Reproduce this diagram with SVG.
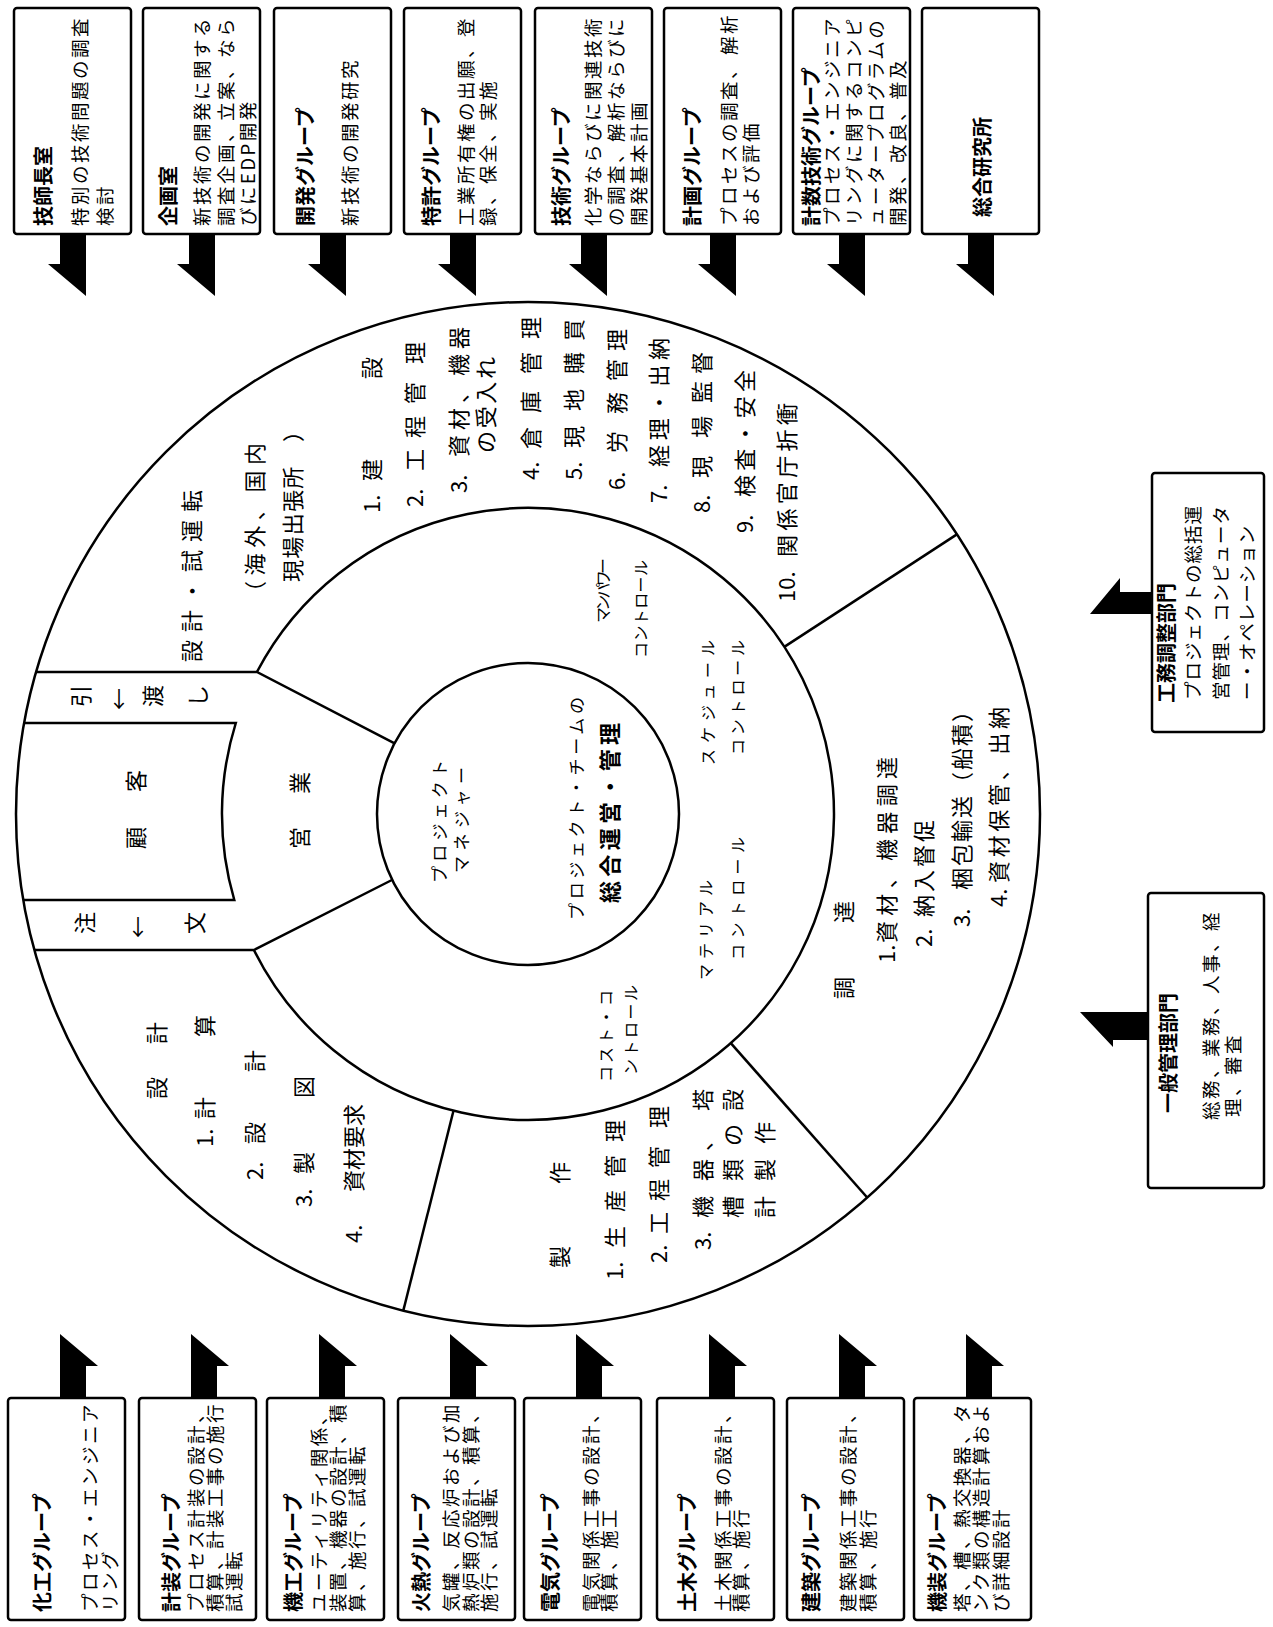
<svg xmlns="http://www.w3.org/2000/svg" width="1273" height="1627" viewBox="0 0 1273 1627">
<defs>
<style>
text{font-family:"Noto Sans CJK JP","Noto Sans",sans-serif;dominant-baseline:central;fill:#000}
.box{fill:#fff;stroke:#000;stroke-width:2.5}
.ln{fill:none;stroke:#000;stroke-width:2.5}
.arr{fill:#000;stroke:none}
.tt{font-size:20px;font-weight:bold}
.bd{font-size:18.5px;letter-spacing:2.5px}
.c22{font-size:22px}
.c16{font-size:16px}
.c17{font-size:17px}
.cm{text-anchor:middle}
</style>
</defs>
<rect width="1273" height="1627" fill="#fff"/>

<!-- wheel -->
<g id="wheel">
<circle class="ln" cx="528" cy="814" r="512"/>
<path class="ln" d="M256.9 672 A306 306 0 1 1 253.9 950"/>
<circle class="ln" cx="528" cy="814" r="151"/>
<path class="ln" d="M36.1 672 H256.9 L394.6 743.4"/>
<path class="ln" d="M34.4 950 H253.9 L391.9 880"/>
<path class="ln" d="M24.2 723 H235.8 A306 306 0 0 0 234.3 900 H23.3"/>
<path class="ln" d="M784.3 646.9 L956.9 534.4"/>
<path class="ln" d="M730.8 1043.2 L867.2 1197.5"/>
<path class="ln" d="M453.5 1110.8 L403.3 1310.6"/>
</g>

<g id="kokyaku">
<text class="c22 cm" transform="rotate(-90)" x="-838" y="134">顧</text>
<text class="c22 cm" transform="rotate(-90)" x="-781" y="134">客</text>
</g>
<g id="hikiwatashi">
<text class="c22 cm" transform="rotate(-90)" x="-696" y="79">引</text>
<text class="c22 cm" x="119" y="697">↓</text>
<text class="c22 cm" transform="rotate(-90)" x="-696" y="151">渡</text>
<text class="c22 cm" transform="rotate(-90)" x="-696" y="196">し</text>
</g>
<g id="chumon">
<text class="c22 cm" transform="rotate(-90)" x="-923" y="83">注</text>
<text class="c22 cm" x="138" y="925">↓</text>
<text class="c22 cm" transform="rotate(-90)" x="-923" y="193">文</text>
</g>
<g id="eigyo">
<text class="c22 cm" transform="rotate(-90)" x="-838" y="298">営</text>
<text class="c22 cm" transform="rotate(-90)" x="-783" y="298">業</text>
</g>

<g id="sector-kensetsu">
<text class="c22" transform="rotate(-90)" x="-662" y="190" textLength="172">設計・試運転</text>
<text class="c22" transform="rotate(-90)" x="-603" y="253" textLength="160">（海外、国内</text>
<text class="c22" transform="rotate(-90)" x="-582" y="291" textLength="162">現場出張所　）</text>
<text class="c22" transform="rotate(-90)" y="370"><tspan x="-513">1.</tspan><tspan x="-481">建</tspan><tspan x="-379">設</tspan></text>
<text class="c22" transform="rotate(-90)" y="413"><tspan x="-507">2.</tspan><tspan x="-471">工</tspan><tspan x="-438">程</tspan><tspan x="-404">管</tspan><tspan x="-364">理</tspan></text>
<text class="c22" transform="rotate(-90)" x="-493" y="457">3.</text>
<text class="c22" transform="rotate(-90)" x="-457" y="457" textLength="130">資材、機器</text>
<text class="c22" transform="rotate(-90)" x="-453" y="484" textLength="96">の受入れ</text>
<text class="c22" transform="rotate(-90)" y="529"><tspan x="-480">4.</tspan><tspan x="-449">倉</tspan><tspan x="-413">庫</tspan><tspan x="-374">管</tspan><tspan x="-339">理</tspan></text>
<text class="c22" transform="rotate(-90)" y="572"><tspan x="-480">5.</tspan><tspan x="-448">現</tspan><tspan x="-411">地</tspan><tspan x="-374">購</tspan><tspan x="-341">買</tspan></text>
<text class="c22" transform="rotate(-90)" y="615"><tspan x="-490">6.</tspan><tspan x="-453">労</tspan><tspan x="-414">務</tspan><tspan x="-381">管</tspan><tspan x="-351">理</tspan></text>
<text class="c22" transform="rotate(-90)" x="-503" y="657">7.</text>
<text class="c22" transform="rotate(-90)" x="-467" y="657" textLength="129">経理・出納</text>
<text class="c22" transform="rotate(-90)" y="700"><tspan x="-513">8.</tspan><tspan x="-478">現</tspan><tspan x="-438">場</tspan><tspan x="-403">監</tspan><tspan x="-374">督</tspan></text>
<text class="c22" transform="rotate(-90)" x="-533" y="743">9.</text>
<text class="c22" transform="rotate(-90)" x="-497" y="743" textLength="127">検査・安全</text>
<text class="c22" transform="rotate(-90)" x="-602" y="785">10.</text>
<text class="c22" transform="rotate(-90)" x="-557" y="785" textLength="154">関係官庁折衝</text>
</g>

<g id="sector-sekkei">
<text class="c22" transform="rotate(-90)" y="155"><tspan x="-1099">設</tspan><tspan x="-1044">計</tspan></text>
<text class="c22" transform="rotate(-90)" y="203"><tspan x="-1147">1.</tspan><tspan x="-1119">計</tspan><tspan x="-1037">算</tspan></text>
<text class="c22" transform="rotate(-90)" y="253"><tspan x="-1180">2.</tspan><tspan x="-1144">設</tspan><tspan x="-1072">計</tspan></text>
<text class="c22" transform="rotate(-90)" y="302"><tspan x="-1207">3.</tspan><tspan x="-1174">製</tspan><tspan x="-1098">図</tspan></text>
<text class="c22" transform="rotate(-90)" y="352"><tspan x="-1243">4.</tspan><tspan x="-1192">資材要求</tspan></text>
</g>

<g id="sector-seisaku">
<text class="c22" transform="rotate(-90)" y="558"><tspan x="-1268">製</tspan><tspan x="-1184">作</tspan></text>
<text class="c22" transform="rotate(-90)" y="613"><tspan x="-1280">1.</tspan><tspan x="-1248">生</tspan><tspan x="-1212">産</tspan><tspan x="-1177">管</tspan><tspan x="-1142">理</tspan></text>
<text class="c22" transform="rotate(-90)" y="657"><tspan x="-1263">2.</tspan><tspan x="-1234">工</tspan><tspan x="-1201">程</tspan><tspan x="-1168">管</tspan><tspan x="-1128">理</tspan></text>
<text class="c22" transform="rotate(-90)" y="701"><tspan x="-1250">3.</tspan><tspan x="-1218">機</tspan><tspan x="-1181">器</tspan><tspan x="-1151">、</tspan><tspan x="-1111">塔</tspan></text>
<text class="c22" transform="rotate(-90)" y="731"><tspan x="-1218">槽</tspan><tspan x="-1181">類</tspan><tspan x="-1146">の</tspan><tspan x="-1111">設</tspan></text>
<text class="c22" transform="rotate(-90)" y="763"><tspan x="-1218">計</tspan><tspan x="-1181">製</tspan><tspan x="-1144">作</tspan></text>
</g>

<g id="sector-chotatsu">
<text class="c22" transform="rotate(-90)" y="842"><tspan x="-999">調</tspan><tspan x="-923">達</tspan></text>
<text class="c22" transform="rotate(-90)" x="-963" y="885">1.</text>
<text class="c22" transform="rotate(-90)" x="-943" y="885" textLength="186">資材、機器調達</text>
<text class="c22" transform="rotate(-90)" x="-947" y="922">2.</text>
<text class="c22" transform="rotate(-90)" x="-917" y="922" textLength="97">納入督促</text>
<text class="c22" transform="rotate(-90)" x="-927" y="960">3.</text>
<text class="c22" transform="rotate(-90)" x="-890" y="960" textLength="190">梱包輸送（船積）</text>
<text class="c22" transform="rotate(-90)" x="-907" y="997">4.</text>
<text class="c22" transform="rotate(-90)" x="-883" y="997" textLength="176">資材保管、出納</text>
</g>

<g id="controls">
<text class="c16" transform="rotate(-90)" x="-623" y="602" textLength="65">マンパワー</text>
<text class="c16" transform="rotate(-90)" x="-658" y="640" textLength="98">コントロール</text>
<text class="c16" transform="rotate(-90)" x="-765" y="707" textLength="125">スケジュール</text>
<text class="c16" transform="rotate(-90)" x="-755" y="737" textLength="115">コントロール</text>
<text class="c16" transform="rotate(-90)" x="-980" y="705" textLength="100">マテリアル</text>
<text class="c16" transform="rotate(-90)" x="-960" y="737" textLength="123">コントロール</text>
<text class="c16" transform="rotate(-90)" x="-1082" y="605" textLength="92">コスト・コ</text>
<text class="c16" transform="rotate(-90)" x="-1075" y="630" textLength="90">ントロール</text>
</g>

<g id="pm">
<text class="c17" transform="rotate(-90)" x="-883" y="438" textLength="123">プロジェクト</text>
<text class="c17" transform="rotate(-90)" x="-873" y="460" textLength="106">マネジャー</text>
<text class="c17" transform="rotate(-90)" x="-920" y="575" textLength="223">プロジェクト・チームの</text>
<text class="c22" transform="rotate(-90)" x="-903" y="608" textLength="180" font-weight="bold">総合運営・管理</text>
</g>

<!-- top boxes -->
<g id="gishicho">
<rect class="box" x="14" y="8" width="117" height="226" rx="3"/>
<text class="tt" transform="rotate(-90)" x="-226" y="42">技師長室</text>
<text class="bd" transform="rotate(-90)"><tspan x="-226" y="79">特別の技術問題の調査</tspan><tspan x="-226" y="104">検討</tspan></text>
</g>
<g id="kikaku">
<rect class="box" x="143" y="8" width="117" height="226" rx="3"/>
<text class="tt" transform="rotate(-90)" x="-226" y="167">企画室</text>
<text class="bd" transform="rotate(-90)"><tspan x="-226" y="201">新技術の開発に関する</tspan><tspan x="-226" y="225">調査企画、立案、なら</tspan><tspan x="-226" y="247">びにEDP開発</tspan></text>
</g>
<g id="kaihatsu">
<rect class="box" x="274" y="8" width="117" height="226" rx="3"/>
<text class="tt" transform="rotate(-90)" x="-226" y="304">開発グループ</text>
<text class="bd" transform="rotate(-90)" x="-226" y="349">新技術の開発研究</text>
</g>
<g id="tokkyo">
<rect class="box" x="404" y="8" width="117" height="226" rx="3"/>
<text class="tt" transform="rotate(-90)" x="-226" y="430">特許グループ</text>
<text class="bd" transform="rotate(-90)"><tspan x="-226" y="465">工業所有権の出願、登</tspan><tspan x="-226" y="487">録、保全、実施</tspan></text>
</g>
<g id="gijutsu">
<rect class="box" x="535" y="8" width="117" height="226" rx="3"/>
<text class="tt" transform="rotate(-90)" x="-226" y="560">技術グループ</text>
<text class="bd" transform="rotate(-90)"><tspan x="-226" y="592">化学ならびに関連技術</tspan><tspan x="-226" y="615">の調査、解析ならびに</tspan><tspan x="-226" y="638">開発基本計画</tspan></text>
</g>
<g id="keikaku">
<rect class="box" x="664" y="8" width="117" height="226" rx="3"/>
<text class="tt" transform="rotate(-90)" x="-226" y="691">計画グループ</text>
<text class="bd" transform="rotate(-90)"><tspan x="-226" y="728">プロセスの調査、</tspan><tspan x="-55" y="728">解析</tspan><tspan x="-226" y="750">および評価</tspan></text>
</g>
<g id="keisu">
<rect class="box" x="793" y="8" width="117" height="226" rx="3"/>
<text class="tt" transform="rotate(-90)" x="-226" y="810">計数技術グループ</text>
<text class="bd" transform="rotate(-90)"><tspan x="-226" y="831">プロセス・エンジニア</tspan><tspan x="-226" y="853">リングに関するコンピ</tspan><tspan x="-226" y="875">ュータープログラムの</tspan><tspan x="-226" y="897">開発、改良、普及</tspan></text>
</g>
<g id="sogo">
<rect class="box" x="922" y="8" width="117" height="226" rx="3"/>
<text class="tt" transform="rotate(-90)" x="-217" y="981">総合研究所</text>
</g>

<!-- bottom boxes -->
<g id="kako">
<rect class="box" x="8" y="1398" width="117" height="222" rx="3"/>
<text class="tt" transform="rotate(-90)" x="-1612" y="41">化工グループ</text>
<text class="bd" transform="rotate(-90)"><tspan x="-1612" y="89">プロセス・エンジニア</tspan><tspan x="-1612" y="109">リング</tspan></text>
</g>
<g id="keiso">
<rect class="box" x="139" y="1398" width="117" height="222" rx="3"/>
<text class="tt" transform="rotate(-90)" x="-1612" y="170">計装グループ</text>
<text class="bd" transform="rotate(-90)"><tspan x="-1612" y="195">プロセス計装の設計、</tspan><tspan x="-1612" y="214">積算、計装工事の施行</tspan><tspan x="-1612" y="233">試運転</tspan></text>
</g>
<g id="kiko">
<rect class="box" x="267" y="1398" width="117" height="222" rx="3"/>
<text class="tt" transform="rotate(-90)" x="-1612" y="292">機工グループ</text>
<text class="bd" transform="rotate(-90)"><tspan x="-1612" y="318">ユーティリティ関係、</tspan><tspan x="-1612" y="337">装置、機器の設計、積</tspan><tspan x="-1612" y="356">算、施行、試運転</tspan></text>
</g>
<g id="kanetsu">
<rect class="box" x="398" y="1398" width="117" height="222" rx="3"/>
<text class="tt" transform="rotate(-90)" x="-1612" y="420">火熱グループ</text>
<text class="bd" transform="rotate(-90)"><tspan x="-1612" y="450">気罐、反応炉および加</tspan><tspan x="-1612" y="470">熱炉類の設計、積算、</tspan><tspan x="-1612" y="488">施行、試運転</tspan></text>
</g>
<g id="denki">
<rect class="box" x="524" y="1398" width="117" height="222" rx="3"/>
<text class="tt" transform="rotate(-90)" x="-1612" y="549">電気グループ</text>
<text class="bd" transform="rotate(-90)"><tspan x="-1612" y="590">電気関係工事の設計、</tspan><tspan x="-1612" y="608">積算、施工</tspan></text>
</g>
<g id="doboku">
<rect class="box" x="657" y="1398" width="117" height="222" rx="3"/>
<text class="tt" transform="rotate(-90)" x="-1612" y="686">土木グループ</text>
<text class="bd" transform="rotate(-90)"><tspan x="-1612" y="722">土木関係工事の設計、</tspan><tspan x="-1612" y="740">積算、施行</tspan></text>
</g>
<g id="kenchiku">
<rect class="box" x="787" y="1398" width="117" height="222" rx="3"/>
<text class="tt" transform="rotate(-90)" x="-1612" y="810">建築グループ</text>
<text class="bd" transform="rotate(-90)"><tspan x="-1612" y="847">建築関係工事の設計、</tspan><tspan x="-1612" y="867">積算、施行</tspan></text>
</g>
<g id="kiso">
<rect class="box" x="914" y="1398" width="117" height="222" rx="3"/>
<text class="tt" transform="rotate(-90)" x="-1612" y="936">機装グループ</text>
<text class="bd" transform="rotate(-90)"><tspan x="-1612" y="961">塔、槽、熱交換器、タ</tspan><tspan x="-1612" y="980">ンク類の構造計算およ</tspan><tspan x="-1612" y="1000">び詳細設計</tspan></text>
</g>

<!-- right boxes -->
<g id="komu">
<rect class="box" x="1152" y="473" width="112" height="259" rx="3"/>
<text class="tt" transform="rotate(-90)" x="-703" y="1165">工務調整部門</text>
<text class="bd" transform="rotate(-90)" style="letter-spacing:1px"><tspan x="-700" y="1192">プロジェクトの総括運</tspan><tspan x="-700" y="1220">営管理、コンピュータ</tspan><tspan x="-700" y="1246">ー・オペレーション</tspan></text>
</g>
<g id="ippan">
<rect class="box" x="1148" y="893" width="116" height="295" rx="3"/>
<text class="tt" transform="rotate(-90)" x="-1113" y="1167">一般管理部門</text>
<text class="bd" transform="rotate(-90)"><tspan x="-1120" y="1210">総務、業務、人事、経</tspan><tspan x="-1117" y="1232">理、審査</tspan></text>
</g>

<!-- connectors -->
<g id="connectors">
<polygon class="arr" points="60,234 86,234 86,296 48,264 60,264"/>
<polygon class="arr" points="189,234 215,234 215,296 177,264 189,264"/>
<polygon class="arr" points="320,234 346,234 346,296 308,264 320,264"/>
<polygon class="arr" points="450,234 476,234 476,296 438,264 450,264"/>
<polygon class="arr" points="581,234 607,234 607,296 569,264 581,264"/>
<polygon class="arr" points="710,234 736,234 736,296 698,264 710,264"/>
<polygon class="arr" points="839,234 865,234 865,296 827,264 839,264"/>
<polygon class="arr" points="968,234 994,234 994,296 956,264 968,264"/>

<polygon class="arr" points="60,1398 86,1398 86,1366 98,1366 60,1334"/>
<polygon class="arr" points="191,1398 217,1398 217,1366 229,1366 191,1334"/>
<polygon class="arr" points="319,1398 345,1398 345,1366 357,1366 319,1334"/>
<polygon class="arr" points="450,1398 476,1398 476,1366 488,1366 450,1334"/>
<polygon class="arr" points="576,1398 602,1398 602,1366 614,1366 576,1334"/>
<polygon class="arr" points="709,1398 735,1398 735,1366 747,1366 709,1334"/>
<polygon class="arr" points="839,1398 865,1398 865,1366 877,1366 839,1334"/>
<polygon class="arr" points="966,1398 992,1398 992,1366 1004,1366 966,1334"/>

<polygon class="arr" points="1152,592 1120,592 1120,578 1090,614 1152,614"/>
<polygon class="arr" points="1148,1012 1080,1012 1113,1047 1113,1040 1148,1040"/>
</g>
</svg>
